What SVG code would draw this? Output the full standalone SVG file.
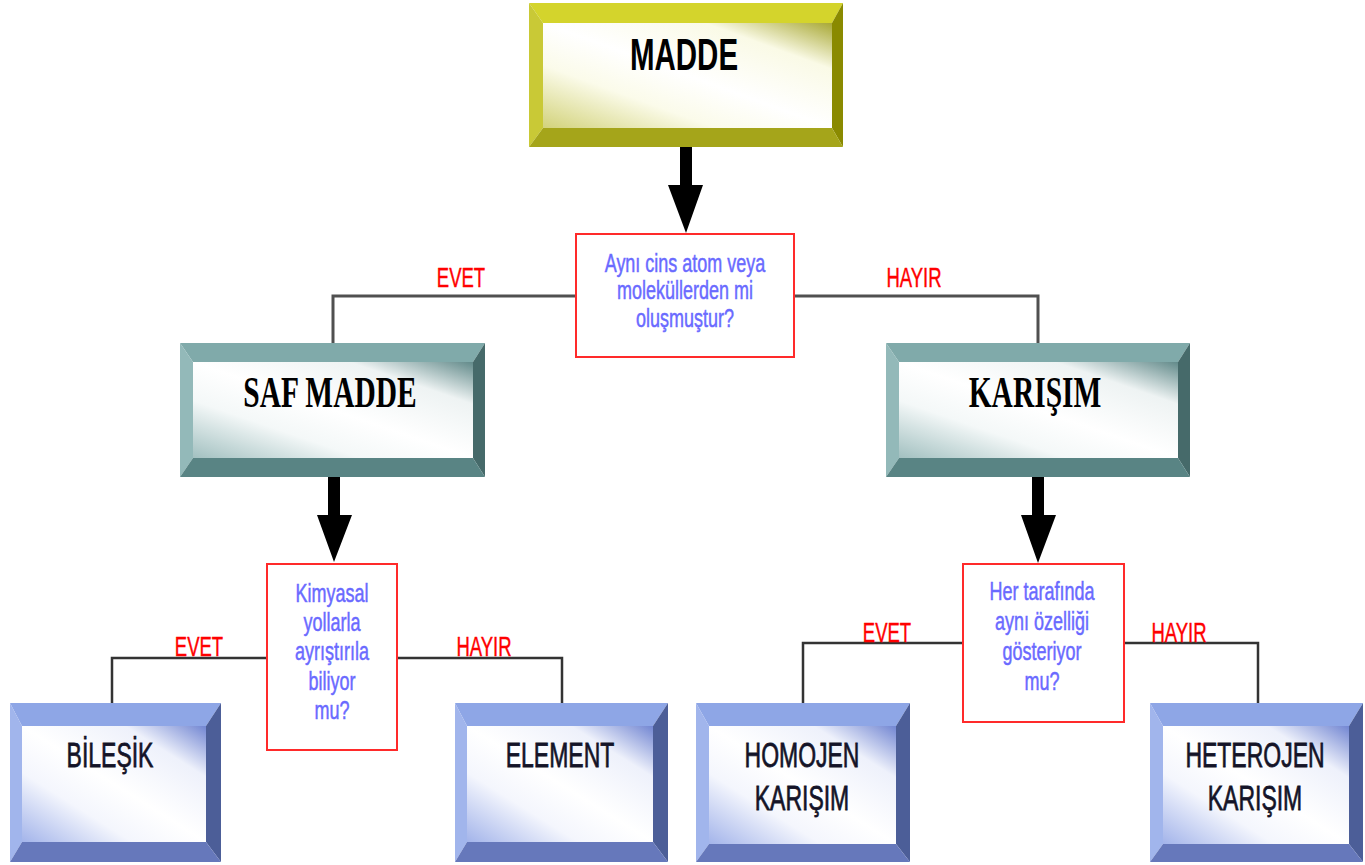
<svg xmlns="http://www.w3.org/2000/svg" width="1365" height="865" viewBox="0 0 1365 865">
<style>
.q{fill:#fff;stroke:#ff2a2a;stroke-width:2}
.qt{font-family:"Liberation Sans",Arial,sans-serif;font-size:18px;fill:#6a6aff;stroke:#6a6aff;stroke-width:0.35;text-anchor:middle}
.lbl{font-family:"Liberation Sans",Arial,sans-serif;font-size:18.5px;fill:#ff0000;stroke:#ff0000;stroke-width:0.3;text-anchor:middle}
.tb{font-family:"Liberation Serif","Times New Roman",serif;font-weight:bold;font-size:29.5px;fill:#000;text-anchor:middle}
.sb{font-family:"Liberation Sans",Arial,sans-serif;font-size:23px;fill:#141428;stroke:#141428;stroke-width:0.5;text-anchor:middle}
.mb{font-family:"Liberation Sans",Arial,sans-serif;font-weight:bold;font-size:29.5px;fill:#000;text-anchor:middle}
.ln{fill:none;stroke:#505050;stroke-width:3}
.ln2{fill:none;stroke:#333;stroke-width:2.5}
.arr{fill:#000}
.yT{fill:#d4d42c}.yL{fill:#c9c936}.yR{fill:#8a8a00}.yB{fill:#a5a51a}
.tT{fill:#80aaaa}.tL{fill:#93b9b9}.tR{fill:#466a6a}.tB{fill:#598484}
.bT{fill:#8ea6e6}.bL{fill:#a1b5ec}.bR{fill:#4c5e98}.bB{fill:#6678bb}
</style>
<defs>
<linearGradient id="gy" x1="0" y1="1" x2="1" y2="0">
<stop offset="0" stop-color="#d2d27a"/><stop offset="0.3" stop-color="#fbfbea"/><stop offset="0.5" stop-color="#ffffff"/><stop offset="0.78" stop-color="#fafae6"/><stop offset="1" stop-color="#a8a835"/>
</linearGradient>
<linearGradient id="gt" x1="0" y1="1" x2="1" y2="0">
<stop offset="0" stop-color="#a2c0c0"/><stop offset="0.3" stop-color="#f4f8f8"/><stop offset="0.5" stop-color="#ffffff"/><stop offset="0.78" stop-color="#eef3f3"/><stop offset="1" stop-color="#628a8a"/>
</linearGradient>
<linearGradient id="gb" x1="0" y1="1" x2="1" y2="0">
<stop offset="0" stop-color="#a3b4ea"/><stop offset="0.3" stop-color="#f4f6fd"/><stop offset="0.5" stop-color="#ffffff"/><stop offset="0.78" stop-color="#eef1fb"/><stop offset="1" stop-color="#7286d2"/>
</linearGradient>
</defs>

<g id="connectors">
<polyline class="ln" points="576,296 333,296 333,343"/>
<polyline class="ln" points="794,296 1038,296 1038,343"/>
<polyline class="ln2" points="267,658 112,658 112,703"/>
<polyline class="ln2" points="397,658 562,658 562,703"/>
<polyline class="ln2" points="963,643 803,643 803,703"/>
<polyline class="ln2" points="1124,643 1258,643 1258,703"/>
<polygon class="arr" points="680,147 692,147 692,185 703,185 686,233 668,185 680,185"/>
<polygon class="arr" points="328,477 340,477 340,515 352,515 334,562 317,515 328,515"/>
<polygon class="arr" points="1032,477 1044,477 1044,515 1056,515 1038,563 1021,515 1032,515"/>
<text class="lbl" transform="translate(461,287) scale(1,1.5)">EVET</text>
<text class="lbl" transform="translate(914,287) scale(1,1.5)">HAYIR</text>
<text class="lbl" transform="translate(199,656) scale(1,1.5)">EVET</text>
<text class="lbl" transform="translate(484,656) scale(1,1.5)">HAYIR</text>
<text class="lbl" transform="translate(887,642) scale(1,1.5)">EVET</text>
<text class="lbl" transform="translate(1179,642) scale(1,1.5)">HAYIR</text>
</g>

<g id="madde">
<polygon class="yT" points="529,3 843,3 832,23 543,23"/>
<polygon class="yL" points="529,3 543,23 543,128 529,147"/>
<polygon class="yR" points="843,3 843,147 832,128 832,23"/>
<polygon class="yB" points="529,147 543,128 832,128 843,147"/>
<rect x="543" y="23" width="289" height="105" fill="url(#gy)"/>
<text class="mb" transform="translate(684,70) scale(1,1.5)">MADDE</text>
</g>

<g id="q1">
<rect class="q" x="576" y="234" width="218" height="123"/>
<text class="qt" transform="translate(685,272) scale(1,1.4)">Aynı cins atom veya</text>
<text class="qt" transform="translate(685,299) scale(1,1.4)">moleküllerden mi</text>
<text class="qt" transform="translate(685,327) scale(1,1.4)">oluşmuştur?</text>
</g>

<g id="safmadde">
<polygon class="tT" points="180,343 485,343 473,362 193,362"/>
<polygon class="tL" points="180,343 193,362 193,458 180,477"/>
<polygon class="tR" points="485,343 485,477 473,458 473,362"/>
<polygon class="tB" points="180,477 193,458 473,458 485,477"/>
<rect x="193" y="362" width="280" height="96" fill="url(#gt)"/>
<text class="tb" transform="translate(330,407) scale(1,1.5)">SAF MADDE</text>
</g>

<g id="karisim">
<polygon class="tT" points="886,343 1190,343 1178,362 899,362"/>
<polygon class="tL" points="886,343 899,362 899,458 886,477"/>
<polygon class="tR" points="1190,343 1190,477 1178,458 1178,362"/>
<polygon class="tB" points="886,477 899,458 1178,458 1190,477"/>
<rect x="899" y="362" width="279" height="96" fill="url(#gt)"/>
<text class="tb" transform="translate(1035,407) scale(1,1.5)">KARIŞIM</text>
</g>

<g id="q2">
<rect class="q" x="267" y="564" width="130" height="186"/>
<text class="qt" transform="translate(332,602) scale(1,1.4)">Kimyasal</text>
<text class="qt" transform="translate(332,631) scale(1,1.4)">yollarla</text>
<text class="qt" transform="translate(332,660) scale(1,1.4)">ayrıştırıla</text>
<text class="qt" transform="translate(332,690) scale(1,1.4)">biliyor</text>
<text class="qt" transform="translate(332,719) scale(1,1.4)">mu?</text>
</g>

<g id="q3">
<rect class="q" x="963" y="564" width="161" height="158"/>
<text class="qt" transform="translate(1042,600) scale(1,1.4)">Her tarafında</text>
<text class="qt" transform="translate(1042,630) scale(1,1.4)">aynı özelliği</text>
<text class="qt" transform="translate(1042,660) scale(1,1.4)">gösteriyor</text>
<text class="qt" transform="translate(1042,690) scale(1,1.4)">mu?</text>
</g>

<g id="bilesik">
<polygon class="bT" points="10,703 221,703 206,726 22,726"/>
<polygon class="bL" points="10,703 22,726 22,842 10,862"/>
<polygon class="bR" points="221,703 221,862 206,842 206,726"/>
<polygon class="bB" points="10,862 22,842 206,842 221,862"/>
<rect x="22" y="726" width="184" height="116" fill="url(#gb)"/>
<text class="sb" transform="translate(110,767) scale(1,1.5)">BİLEŞİK</text>
</g>

<g id="element">
<polygon class="bT" points="455,703 668,703 653,726 467,726"/>
<polygon class="bL" points="455,703 467,726 467,842 455,862"/>
<polygon class="bR" points="668,703 668,862 653,842 653,726"/>
<polygon class="bB" points="455,862 467,842 653,842 668,862"/>
<rect x="467" y="726" width="186" height="116" fill="url(#gb)"/>
<text class="sb" transform="translate(560,767) scale(1,1.5)">ELEMENT</text>
</g>

<g id="homojen">
<polygon class="bT" points="696,703 910,703 896,726 709,726"/>
<polygon class="bL" points="696,703 709,726 709,844 696,862"/>
<polygon class="bR" points="910,703 910,862 896,844 896,726"/>
<polygon class="bB" points="696,862 709,844 896,844 910,862"/>
<rect x="709" y="726" width="187" height="118" fill="url(#gb)"/>
<text class="sb" transform="translate(802,767) scale(1,1.5)">HOMOJEN</text>
<text class="sb" transform="translate(802,810) scale(1,1.5)">KARIŞIM</text>
</g>

<g id="heterojen">
<polygon class="bT" points="1150,703 1363,703 1349,726 1163,726"/>
<polygon class="bL" points="1150,703 1163,726 1163,844 1150,862"/>
<polygon class="bR" points="1363,703 1363,862 1349,844 1349,726"/>
<polygon class="bB" points="1150,862 1163,844 1349,844 1363,862"/>
<rect x="1163" y="726" width="186" height="118" fill="url(#gb)"/>
<text class="sb" transform="translate(1255,767) scale(1,1.5)">HETEROJEN</text>
<text class="sb" transform="translate(1255,810) scale(1,1.5)">KARIŞIM</text>
</g>
</svg>
